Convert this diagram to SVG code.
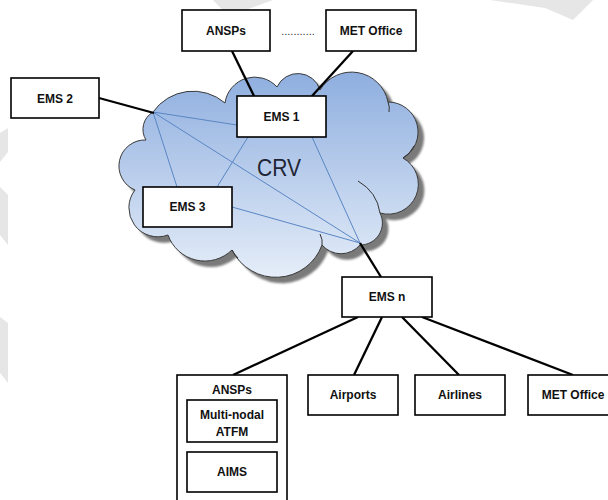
<svg xmlns="http://www.w3.org/2000/svg" width="608" height="500" viewBox="0 0 608 500">
<defs>
<linearGradient id="cg" x1="0" y1="72" x2="0" y2="280" gradientUnits="userSpaceOnUse">
<stop offset="0" stop-color="#8eaedf"/>
<stop offset="1" stop-color="#e6eef9"/>
</linearGradient>
<filter id="blur" x="-10%" y="-10%" width="120%" height="120%"><feGaussianBlur stdDeviation="1.2"/></filter>
<path id="cloud" d="M153,112 A49,49 0 0 1 225,103 A30,30 0 0 1 277,87 A23,23 0 0 1 320,90 A37,37 0 0 1 388,102 A30,30 0 0 1 403,158 A30,30 0 0 1 380,213 A22,22 0 0 1 360,245 A25,25 0 0 1 322,245 A49,49 0 0 1 232,250 A39,39 0 0 1 168,235 A29,29 0 0 1 135,190 A26,26 0 0 1 146,140 A20,20 0 0 1 153,112 Z"/>
</defs>
<style>
.box{fill:#fff;stroke:#000;stroke-width:1.6}
.lbl{font-family:"Liberation Sans",Arial,sans-serif;font-weight:bold;font-size:12px;fill:#111;text-anchor:middle}
.thick{stroke:#000;stroke-width:2.3;fill:none}
.thin{stroke:#5a86c4;stroke-width:1;fill:none}
.inner{stroke:#333;stroke-width:1;fill:none}
.wm{fill:#e6e6e6}
</style>
<rect width="608" height="500" fill="#fff"/>
<g id="watermark">
<polygon class="wm" points="0,133 8,128 8,152 0,162"/>
<polygon class="wm" points="0,187 8,195 8,245 0,235"/>
<polygon class="wm" points="0,317 8,323 8,383 0,373"/>
<polygon class="wm" points="213,0 273,0 240,12 230,18"/>
<polygon class="wm" points="490,0 593,0 573,20 545,8"/>
</g>
<g id="crv">
<use href="#cloud" transform="translate(6,6)" fill="#7a7a7a" filter="url(#blur)"/>
<use href="#cloud" fill="url(#cg)" stroke="#3a3a3a" stroke-width="1"/>
<path class="inner" d="M403,158 Q410,154 414,146"/>
<path class="inner" d="M380,213 Q377,192 358,181"/>
<path class="inner" d="M322,245 Q323,240 320,234"/>
<path class="inner" d="M388,102 Q390,107 389,112"/>
<path class="inner" d="M232,250 Q234,254 238,258"/>
<text x="279" y="176" font-family="Liberation Sans,Arial,sans-serif" font-size="23" fill="#1e2433" text-anchor="middle" textLength="44" lengthAdjust="spacingAndGlyphs">CRV</text>
</g>
<g id="connectors">
<line class="thin" x1="153" y1="112" x2="237" y2="125"/>
<line class="thin" x1="153" y1="112" x2="177" y2="187"/>
<line class="thin" x1="153" y1="112" x2="360" y2="243"/>
<line class="thin" x1="248" y1="137" x2="217" y2="187"/>
<line class="thin" x1="312" y1="137" x2="360" y2="243"/>
<line class="thin" x1="232" y1="207" x2="360" y2="243"/>
<line class="thick" x1="99" y1="98" x2="154" y2="113"/>
<line class="thick" x1="232" y1="51" x2="254" y2="96"/>
<line class="thick" x1="353" y1="51" x2="312" y2="96"/>
<line class="thick" x1="360" y1="243" x2="381" y2="277"/>
<line class="thick" x1="358" y1="317" x2="233" y2="375"/>
<line class="thick" x1="382" y1="317" x2="354" y2="375"/>
<line class="thick" x1="402" y1="317" x2="459" y2="375"/>
<line class="thick" x1="422" y1="317" x2="573" y2="375"/>
</g>
<g id="ansps-top"><rect class="box" x="182" y="10" width="88" height="41"/><text class="lbl" x="226" y="35">ANSPs</text></g>
<g id="dots"><text x="298" y="35" font-family="Liberation Sans,Arial,sans-serif" font-size="11" fill="#333" text-anchor="middle">...........</text></g>
<g id="met-top"><rect class="box" x="326" y="10" width="90" height="41"/><text class="lbl" x="371" y="35">MET Office</text></g>
<g id="ems2"><rect class="box" x="11" y="78" width="88" height="40"/><text class="lbl" x="55" y="103">EMS 2</text></g>
<g id="ems1"><rect class="box" x="237" y="96" width="89" height="41"/><text class="lbl" x="281.5" y="121">EMS 1</text></g>
<g id="ems3"><rect class="box" x="143" y="187" width="89" height="40"/><text class="lbl" x="187.5" y="211">EMS 3</text></g>
<g id="emsn"><rect class="box" x="342" y="277" width="90" height="40"/><text class="lbl" x="387" y="301">EMS n</text></g>
<g id="ansps-bottom">
<rect class="box" x="177" y="375" width="110" height="140"/>
<text class="lbl" x="232" y="394">ANSPs</text>
<g id="atfm"><rect class="box" x="187" y="400" width="90" height="42"/><text class="lbl" x="232" y="419">Multi-nodal</text><text class="lbl" x="232" y="436">ATFM</text></g>
<g id="aims"><rect class="box" x="187" y="452" width="90" height="40"/><text class="lbl" x="232" y="476">AIMS</text></g>
</g>
<g id="airports"><rect class="box" x="308" y="375" width="90" height="40"/><text class="lbl" x="353" y="399">Airports</text></g>
<g id="airlines"><rect class="box" x="415" y="375" width="90" height="40"/><text class="lbl" x="460" y="399">Airlines</text></g>
<g id="met-bottom"><rect class="box" x="528" y="375" width="95" height="40"/><text class="lbl" x="573" y="399">MET Office</text></g>
</svg>
